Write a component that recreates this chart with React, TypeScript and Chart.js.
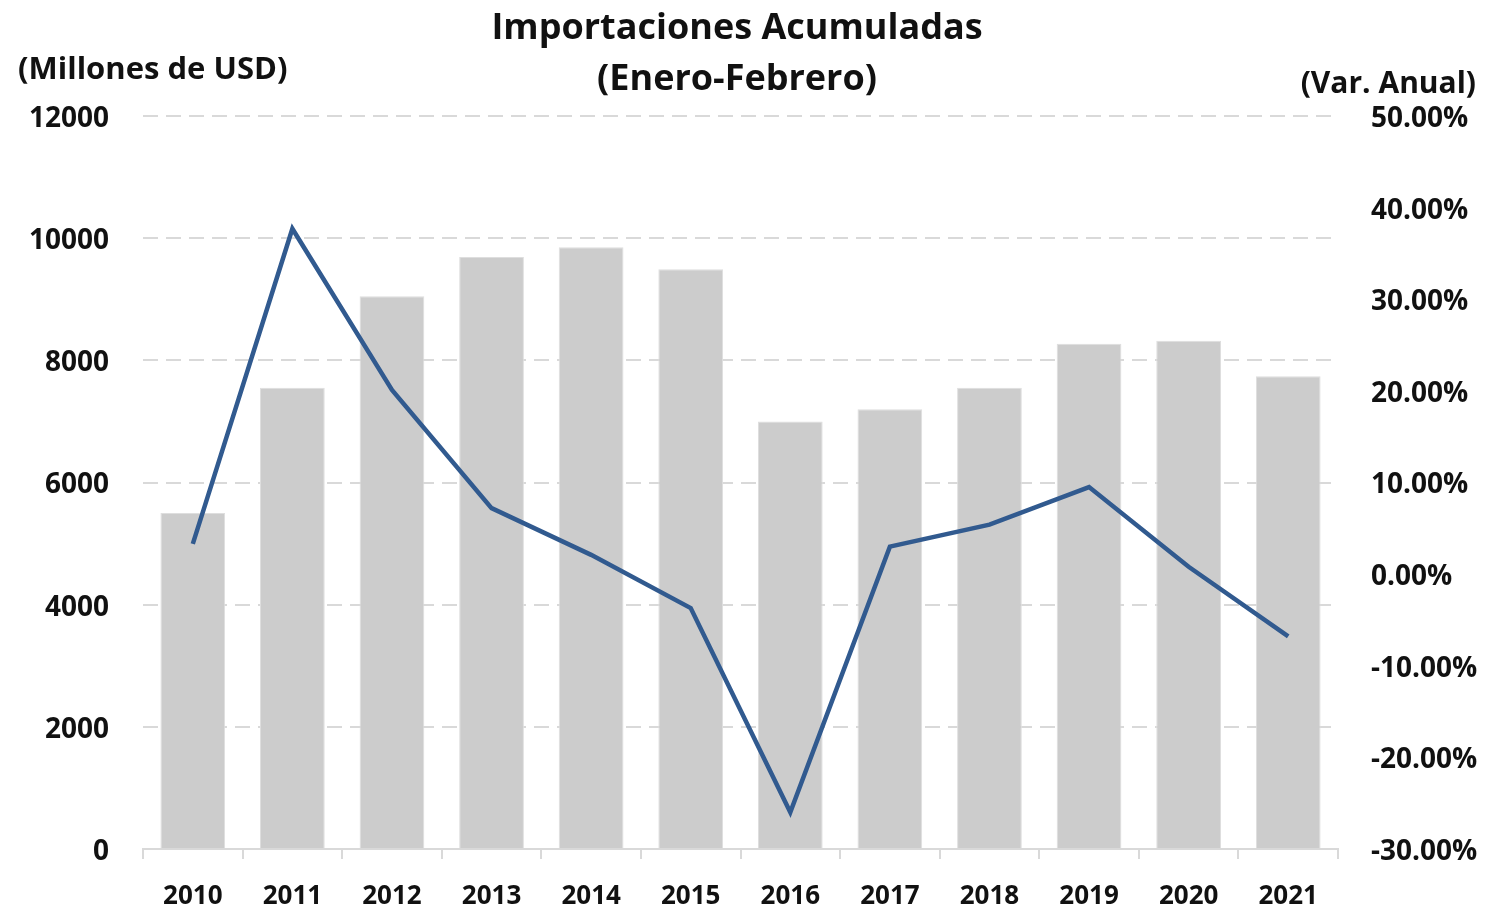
import React, { useEffect, useRef } from "react";
import { Chart, registerables } from "chart.js";

Chart.register(...registerables);

const years = ["2010", "2011", "2012", "2013", "2014", "2015", "2016", "2017", "2018", "2019", "2020", "2021"];
const importaciones = [5500, 7550, 9050, 9690, 9850, 9490, 7000, 7200, 7550, 8270, 8320, 7740];
const variacion = [3.3, 37.7, 20.1, 7.2, 2.1, -3.7, -26.0, 3.0, 5.4, 9.5, 0.8, -6.8];

const titleLine1 = "Importaciones Acumuladas";
const titleLine2 = "(Enero-Febrero)";
const leftAxisTitle = "(Millones de USD)";
const rightAxisTitle = "(Var. Anual)";

const FONT = "'Open Sans', sans-serif";

const textPlugin = {
  id: "texts",
  afterDraw(chart: any) {
    const ctx = chart.ctx;
    ctx.save();
    ctx.fillStyle = "#111111";
    ctx.textBaseline = "middle";
    ctx.textAlign = "center";
    ctx.font = `bold 36px ${FONT}`;
    ctx.fillText(titleLine1, 737, 29);
    ctx.fillText(titleLine2, 737, 80);
    ctx.font = `bold 31px ${FONT}`;
    ctx.textAlign = "left";
    ctx.fillText(leftAxisTitle, 18, 70);
    ctx.font = `bold 30px ${FONT}`;
    ctx.textAlign = "right";
    ctx.fillText(rightAxisTitle, 1476, 84);
    ctx.restore();
  },
};

export default function App() {
  const ref = useRef<HTMLCanvasElement>(null);
  useEffect(() => {
    const chart = new Chart(ref.current as HTMLCanvasElement, {
      type: "bar",
      data: {
        labels: years,
        datasets: [
          {
            type: "line",
            data: variacion,
            yAxisID: "y1",
            borderColor: "#315a8f",
            borderWidth: 4.5,
            pointRadius: 0,
            tension: 0,
            order: 0,
          } as any,
          {
            type: "bar",
            data: importaciones,
            yAxisID: "y",
            backgroundColor: "#cccccc",
            borderColor: "#dedede",
            borderWidth: 1,
            barPercentage: 0.65,
            categoryPercentage: 1,
            order: 1,
          },
        ],
      },
      options: {
        animation: false,
        responsive: false,
        maintainAspectRatio: false,
        layout: { padding: { top: 116, left: 0, right: 0, bottom: 0 } },
        plugins: { legend: { display: false }, tooltip: { enabled: false } },
        scales: {
          x: {
            grid: {
              display: true,
              drawOnChartArea: false,
              drawTicks: true,
              tickLength: 10,
              color: "#d9d9d9",
              lineWidth: 2,
            },
            border: { display: true, color: "#d9d9d9", width: 2 },
            ticks: {
              color: "#111111",
              font: { family: FONT, size: 26, weight: "bold" },
              padding: 22,
            },
            afterFit(scale: any) {
              scale.height = 64;
            },
          },
          y: {
            position: "left",
            min: 0,
            max: 12000,
            grid: {
              color: "#d9d9d9",
              lineWidth: 2,
              drawTicks: false,
            },
            border: { display: false, dash: [15, 8] },
            ticks: {
              stepSize: 2000,
              color: "#111111",
              font: { family: FONT, size: 28, weight: "bold" },
              padding: 34,
              labelOffset: 3,
              callback: (v: any) => String(v),
            },
            afterFit(scale: any) {
              scale.width = 143;
            },
          },
          y1: {
            position: "right",
            min: -30,
            max: 50,
            grid: { display: false, drawTicks: false },
            border: { display: false },
            ticks: {
              stepSize: 10,
              color: "#111111",
              font: { family: FONT, size: 28, weight: "bold" },
              padding: 33,
              labelOffset: 3,
              crossAlign: "near",
              callback: (v: any) => Number(v).toFixed(2) + "%",
            },
            afterFit(scale: any) {
              scale.width = 147;
            },
          },
        },
      },
      plugins: [textPlugin],
    });
    return () => chart.destroy();
  }, []);
  return (
    <div style={{ position: "fixed", left: 0, top: 0, width: 1485, height: 913, background: "#ffffff" }}>
      <canvas ref={ref} width={1485} height={913} style={{ width: 1485, height: 913, display: "block" }} />
    </div>
  );
}
